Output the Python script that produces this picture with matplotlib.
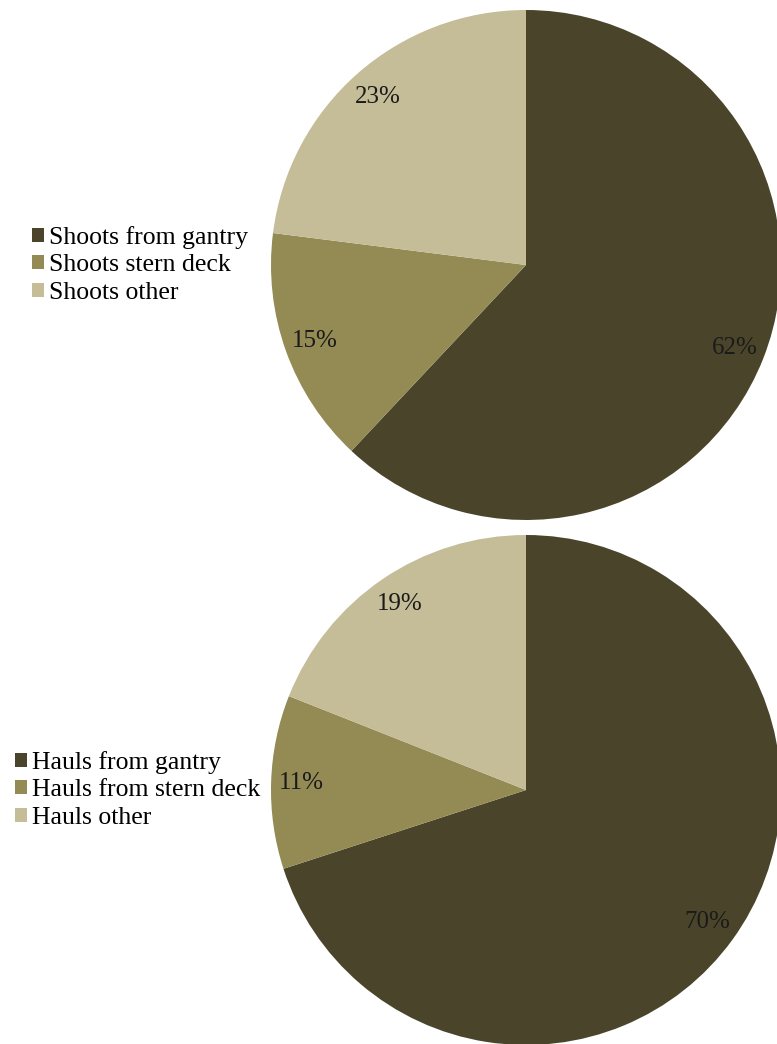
import matplotlib
matplotlib.use("Agg")
import matplotlib.pyplot as plt

plt.rcParams['font.family'] = ['Liberation Serif', 'DejaVu Serif']

# share of shooting and hauling operations by location
shoot_labels = ['Shoots from gantry', 'Shoots stern deck', 'Shoots other']
shoot_pct = [62, 15, 23]
haul_labels = ['Hauls from gantry', 'Hauls from stern deck', 'Hauls other']
haul_pct = [70, 11, 19]

colors = ['#4a452a', '#948a54', '#c4bd97']

W, H = 777, 1044
fig = plt.figure(figsize=(W / 100, H / 100), dpi=100)


def pie_axes(cx, cy, r):
    # axes box in figure fractions for a pie centred at pixel (cx, cy)
    return fig.add_axes([(cx - r) / W, (H - cy - r) / H, 2 * r / W, 2 * r / H])


def draw(ax, values, labels, leg_x, leg_y):
    wedges, _, autotexts = ax.pie(values, colors=colors, startangle=90,
                                  counterclock=False, autopct='%1.0f%%',
                                  pctdistance=0.88, radius=1.0,
                                  wedgeprops=dict(linewidth=0),
                                  textprops=dict(fontsize=18, color='#1a1a1a'))
    ax.set_xlim(-1, 1)
    ax.set_ylim(-1, 1)
    ax.set_aspect('equal')
    ax.axis('off')
    ax.legend(wedges, labels, loc='center left',
              bbox_to_anchor=(leg_x / W, 1 - leg_y / H),
              bbox_transform=fig.transFigure, frameon=False,
              fontsize=18.5, handlelength=0.46, handleheight=0.46,
              handletextpad=0.22, labelspacing=0.22, borderpad=0,
              borderaxespad=0)


ax1 = pie_axes(526, 265, 255)
draw(ax1, shoot_pct, shoot_labels, 32, 265)

ax2 = pie_axes(526, 790, 255)
draw(ax2, haul_pct, haul_labels, 15, 790)

fig.savefig('out.png', dpi=100, facecolor='white')
